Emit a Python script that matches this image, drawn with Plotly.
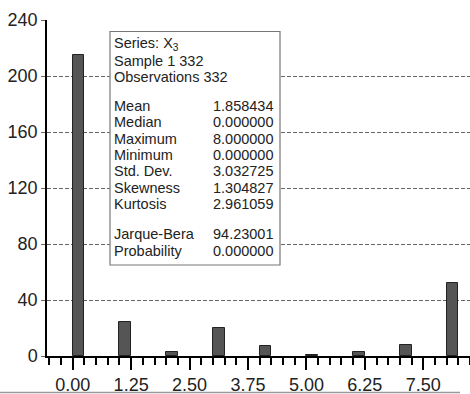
import plotly.graph_objects as go

# ---- data ----
bin_starts = [0, 1, 2, 3, 4, 5, 6, 7, 8]
counts = [215, 24, 3, 20, 7, 1, 3, 8, 52]
bin_width = 0.25

stat_labels = ["Mean", "Median", "Maximum", "Minimum", "Std. Dev.", "Skewness", "Kurtosis"]
stat_values = ["1.858434", "0.000000", "8.000000", "0.000000", "3.032725", "1.304827", "2.961059"]
test_labels = ["Jarque-Bera", "Probability"]
test_values = ["94.23001", "0.000000"]
header_lines = ["Series: X<sub>3</sub>", "Sample 1 332", "Observations 332"]

y_ticks = [0, 40, 80, 120, 160, 200, 240]

# ---- geometry (pixels) ----
W, H = 470, 394
L, R, T, B = 47, 0, 20, 38
PW, PH = W - L - R, H - T - B

def px(xp):
    return (xp - L) / PW

def py(yp):
    return (H - B - yp) / PH

FONT = "Liberation Sans, Arial, Helvetica, sans-serif"
TXT = "#222222"

fig = go.Figure()
fig.add_trace(go.Bar(
    x=bin_starts, y=counts, width=bin_width, offset=0,
    marker=dict(color="#555555", line=dict(color="#222222", width=1)),
    showlegend=False,
))

fig.update_layout(
    width=W, height=H,
    margin=dict(l=L, r=R, t=T, b=B, pad=0),
    paper_bgcolor="white", plot_bgcolor="white",
    font=dict(family=FONT, color=TXT, size=18),
    bargap=0,
)

fig.update_xaxes(
    range=[-0.55, 8.5], showgrid=False, zeroline=False,
    showline=True, linecolor="black", linewidth=1.5,
    tickmode="linear", tick0=0, dtick=1.25, tickformat=".2f",
    ticks="outside", ticklen=12, tickcolor="black", tickwidth=1.5,
    tickfont=dict(size=18, color=TXT),
    minor=dict(tick0=0, dtick=0.25, ticks="outside", ticklen=7,
               tickcolor="black", tickwidth=1.5, showgrid=False),
)
fig.update_yaxes(
    range=[0, 240], tickmode="array", tickvals=y_ticks,
    showgrid=True, gridcolor="#666666", griddash="4px,2px", gridwidth=1,
    zeroline=False, showline=True, linecolor="black", linewidth=1.5,
    ticks="outside", ticklen=4, tickcolor="#666666",
    tickfont=dict(size=18, color=TXT),
)

# bottom grey rule
fig.add_shape(type="line", xref="paper", yref="paper",
              x0=px(0), x1=px(460), y0=py(392.5), y1=py(392.5),
              line=dict(color="#999999", width=1.5))

# stats box
box_l, box_r, box_t, box_b = 110, 280, 31.5, 265
fig.add_shape(type="rect", xref="paper", yref="paper", layer="above",
              x0=px(box_l), x1=px(box_r), y0=py(box_b), y1=py(box_t),
              fillcolor="white", line=dict(color="#777777", width=1.2))

lab_x = 112
val_x = 275
fs = 14.5

def add_text(text, xp, yp, anchor):
    fig.add_annotation(text=text, xref="paper", yref="paper",
                       x=px(xp), y=py(yp), xanchor=anchor, yanchor="middle",
                       showarrow=False, font=dict(size=fs, color=TXT, family=FONT))

header_y = [44, 60.5, 77]
for t, yy in zip(header_lines, header_y):
    add_text(t, lab_x, yy, "left")

stat_y = [105.5, 122, 138.5, 155, 171.5, 188, 204.5]
for lab, val, yy in zip(stat_labels, stat_values, stat_y):
    add_text(lab, lab_x, yy, "left")
    add_text(val, val_x, yy, "right")

test_y = [234, 250.5]
for lab, val, yy in zip(test_labels, test_values, test_y):
    add_text(lab, lab_x, yy, "left")
    add_text(val, val_x, yy, "right")

fig.write_html("out.html")
